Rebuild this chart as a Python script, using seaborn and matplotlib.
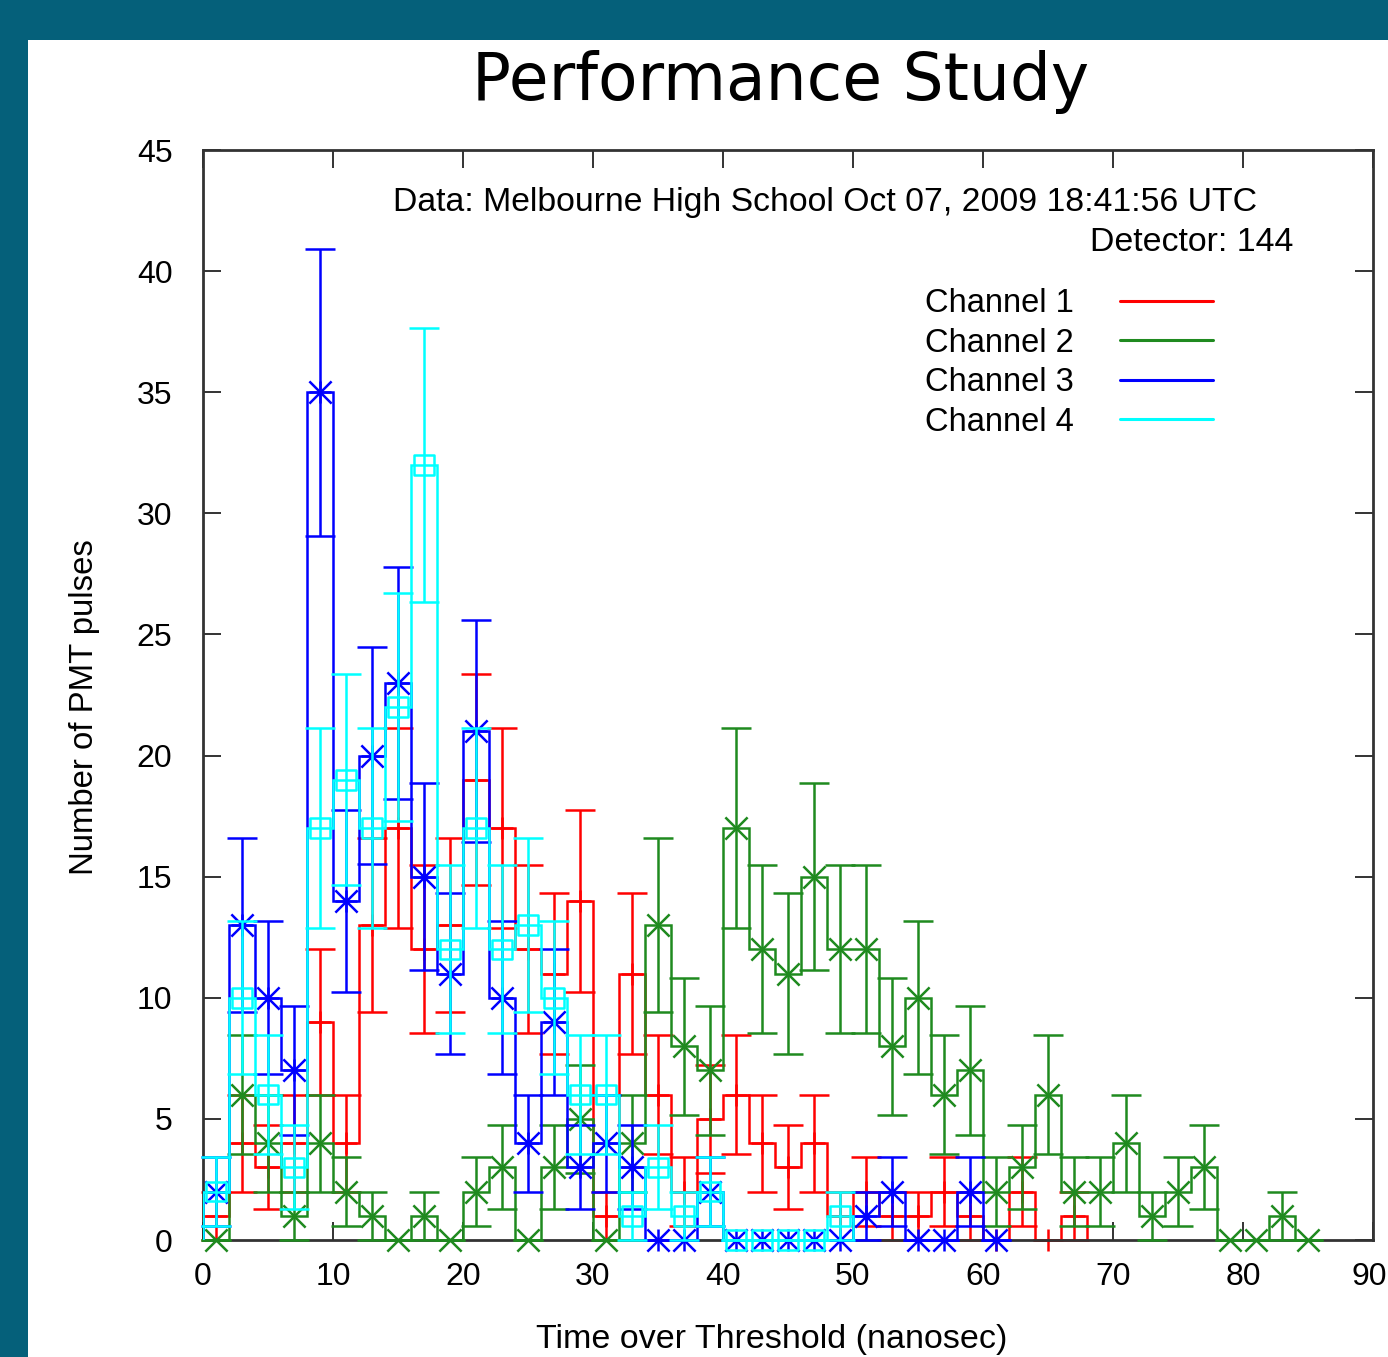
import numpy as np
import pandas as pd
import matplotlib
matplotlib.use("Agg")
import matplotlib.pyplot as plt
import matplotlib.transforms as mtransforms
import seaborn as sns
from matplotlib.patches import Rectangle
from matplotlib.lines import Line2D

# ---- data: counts per 2 ns bin (bins start at 0 ns) ----
bin_width = 2
channel_names = ["Channel 1", "Channel 2", "Channel 3", "Channel 4"]
ch1 = [1, 4, 3, 4, 9, 4, 13, 17, 12, 13, 19, 17, 12, 11, 14, 1, 11, 6, 2, 5,
       6, 4, 3, 4, 1, 2, 1, 1, 2, 1, 0, 2, 0, 1]
ch2 = [0, 6, 4, 1, 4, 2, 1, 0, 1, 0, 2, 3, 0, 3, 5, 0, 4, 13, 8, 7,
       17, 12, 11, 15, 12, 12, 8, 10, 6, 7, 2, 3, 6, 2, 2, 4, 1, 2, 3, 0,
       0, 1, 0]
ch3 = [2, 13, 10, 7, 35, 14, 20, 23, 15, 11, 21, 10, 4, 9, 3, 4, 3, 0, 0, 2,
       0, 0, 0, 0, 0, 1, 2, 0, 0, 2, 0]
ch4 = [2, 10, 6, 3, 17, 19, 17, 22, 32, 12, 17, 12, 13, 10, 6, 6, 1, 3, 1, 2,
       0, 0, 0, 0, 1]
x_ticks = [0, 10, 20, 30, 40, 50, 60, 70, 80, 90]
y_ticks = [0, 5, 10, 15, 20, 25, 30, 35, 40, 45]

colors = ["#ff0000", "#1f8a1f", "#0000ff", "#00ffff"]
series = [ch1, ch2, ch3, ch4]

sns.set_theme(style="ticks")
plt.rcParams["font.family"] = ["Liberation Sans", "DejaVu Sans"]
plt.rcParams["text.color"] = "black"
plt.rcParams["axes.labelcolor"] = "black"

W, H = 1388, 1357
teal = "#05607a"
fig = plt.figure(figsize=(W / 100, H / 100), dpi=100, facecolor=teal)
fig.patches.append(Rectangle((28 / W, 0), 1 - 28 / W, (H - 40) / H,
                             transform=fig.transFigure, facecolor="white",
                             edgecolor="none", zorder=-10))

L, R, T, B = 203, 1373, 150, 1240
ax = fig.add_axes([L / W, 1 - B / H, (R - L) / W, (B - T) / H])
ax.set_facecolor("white")

lw = 1.8
handles = []
for name, vals, col, z in zip(channel_names, series, colors, [2, 3, 4, 5]):
    vals = np.asarray(vals, dtype=float)
    edges = np.arange(len(vals) + 1) * bin_width
    centers = edges[:-1] + bin_width / 2
    df = pd.DataFrame({"t": centers, "n": vals})
    ax.stairs(vals, edges, baseline=0, color=col, lw=lw, zorder=z)
    ax.errorbar(df["t"], df["n"], yerr=np.sqrt(df["n"]), fmt="none",
                ecolor=col, elinewidth=lw, capsize=11, capthick=lw,
                zorder=z, clip_on=False)
    if name == "Channel 1":
        sns.scatterplot(data=df, x="t", y="n", marker="+", color=col, s=256,
                        linewidth=lw, ax=ax, legend=False, zorder=z, clip_on=False)
    elif name == "Channel 2":
        sns.scatterplot(data=df, x="t", y="n", marker="x", color=col, s=256,
                        linewidth=lw, ax=ax, legend=False, zorder=z, clip_on=False)
    elif name == "Channel 3":
        sns.scatterplot(data=df, x="t", y="n", marker="x", color=col, s=256,
                        linewidth=lw, ax=ax, legend=False, zorder=z, clip_on=False)
        sns.scatterplot(data=df, x="t", y="n", marker="+", color=col, s=256,
                        linewidth=lw, ax=ax, legend=False, zorder=z, clip_on=False)
    else:
        ax.scatter(df["t"], df["n"], marker="s", s=200, facecolors="none",
                   edgecolors=col, linewidths=lw, zorder=z, clip_on=False)
    handles.append(Line2D([], [], color=col, lw=2.2, label=name))

ax.set_xlim(0, 90)
ax.set_ylim(0, 45)
ax.set_xticks(x_ticks)
ax.set_yticks(y_ticks)
ax.tick_params(direction="in", length=13, width=1.4, color="#333333",
               top=True, right=True, labelsize=23, labelcolor="black")
ax.tick_params(axis="x", pad=16)
ax.tick_params(axis="y", pad=22)
for s in ax.spines.values():
    s.set_color("#333333")
    s.set_linewidth(2)

# nudge the last x tick label so it stays inside the figure
fig.canvas.draw()
last = ax.get_xticklabels()[-1]
last.set_transform(last.get_transform() +
                   mtransforms.ScaledTranslation(-4 / 100, 0, fig.dpi_scale_trans))

ax.set_xlabel("Time over Threshold (nanosec)", fontsize=24.5, color="black")
ax.xaxis.set_label_coords(0.486, -0.077)
ax.set_ylabel("Number of PMT pulses", fontsize=23.7, color="black")
ax.yaxis.set_label_coords(-0.088, 0.489)

ax.text(0.901, 0.9514, "Data: Melbourne High School Oct 07, 2009 18:41:56 UTC",
        transform=ax.transAxes, ha="right", va="center", fontsize=24.3,
        color="black")
ax.text(0.9316, 0.9147, "Detector: 144", transform=ax.transAxes,
        ha="right", va="center", fontsize=24.4, color="black")

leg = ax.legend(handles=handles, loc="upper left", bbox_to_anchor=(0.606, 0.885),
                frameon=False, fontsize=23.5, markerfirst=False,
                handlelength=2.85, handletextpad=1.42, labelspacing=0.26,
                borderaxespad=0)
for t in leg.get_texts():
    t.set_color("black")

fig.text(781 / W, 1 - 100 / H, "Performance Study", ha="center", va="baseline",
         fontsize=46.5, family="DejaVu Sans", color="black")

fig.savefig("out.png", dpi=100, facecolor=teal)
